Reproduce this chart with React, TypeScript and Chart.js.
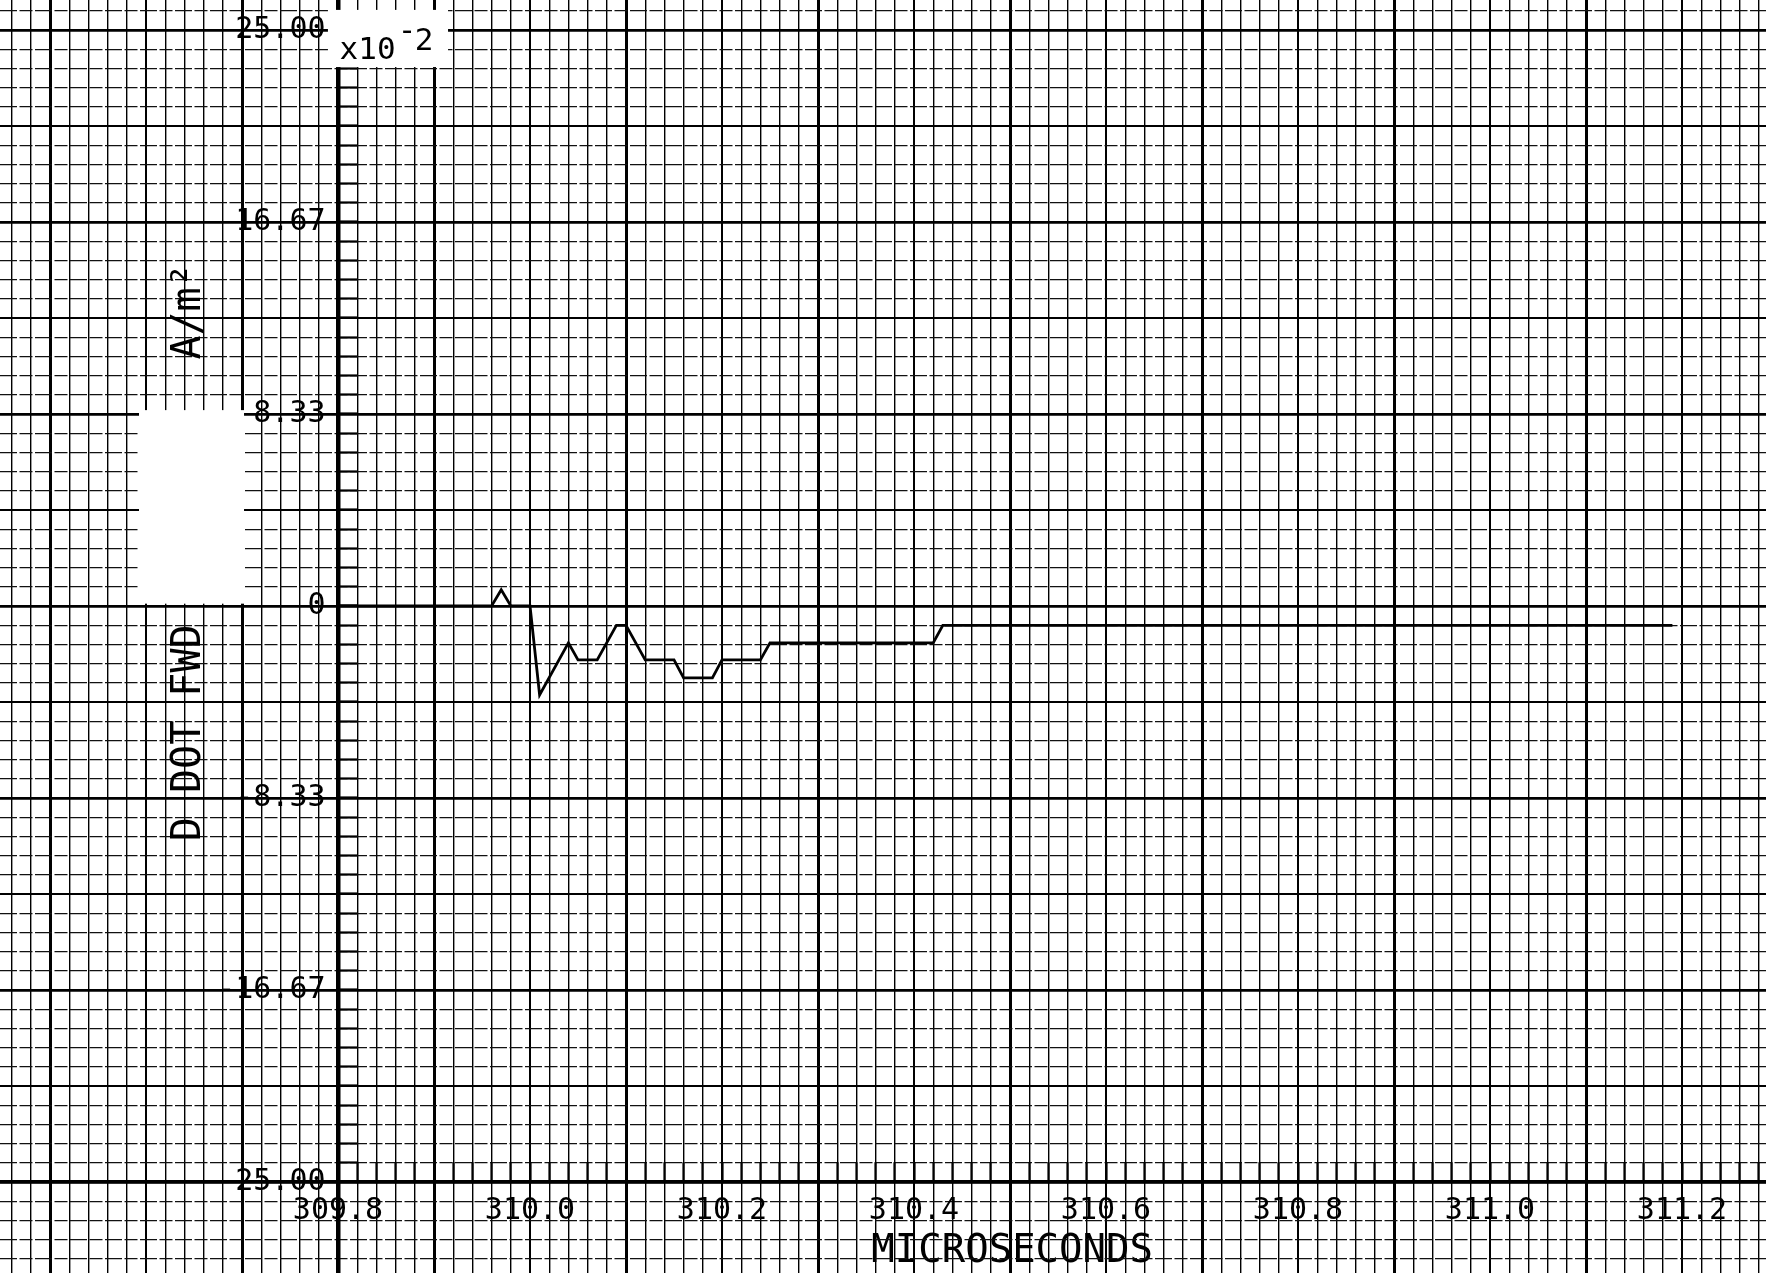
import React, { useEffect, useRef } from 'react';
import { Chart, registerables } from 'chart.js';

Chart.register(...registerables);

// ---------------- data ----------------
const TIME_US = [
  309.8, 309.96, 309.97, 309.98, 310.0, 310.01, 310.04, 310.05, 310.07, 310.09, 310.1,
  310.12, 310.15, 310.16, 310.19, 310.2, 310.24, 310.25, 310.42, 310.43, 311.19,
];
const D_DOT_FWD = [
  0, 0, 0.7, 0, 0, -3.86, -1.6, -2.34, -2.34, -0.84, -0.84,
  -2.34, -2.34, -3.12, -3.12, -2.34, -2.34, -1.6, -1.6, -0.84, -0.84,
];

// ---------------- ticks, labels, titles ----------------
const X_TICK_VALUES = [309.8, 310.0, 310.2, 310.4, 310.6, 310.8, 311.0, 311.2];
const X_TICK_LABELS = ['309.8', '310.0', '310.2', '310.4', '310.6', '310.8', '311.0', '311.2'];
const Y_TICK_VALUES = [25, 16.67, 8.33, 0, -8.33, -16.67, -25];
const Y_TICK_LABELS = ['25.00', '16.67', '8.33', '0', '-8.33', '-16.67', '-25.00'];
const X_TITLE = 'MICROSECONDS';
const Y_TITLE_LOWER = 'D DOT FWD';
const Y_TITLE_UPPER = 'A/m²';
const Y_MULTIPLIER = 'x10';
const Y_MULTIPLIER_SIGN = '-';
const Y_MULTIPLIER_EXP = '2';

// ---------------- frame (scale ranges) ----------------
const X_AXIS_START = 309.8;
const X_MINOR = 0.02;
const Y_AXIS_MIN = -25;
const Y_AXIS_MAX = 25;
const Y_MINOR = 25 / 30;
const VIEW_X_MIN = 309.4479;
const VIEW_X_MAX = 311.2875;
const VIEW_Y_MIN = -28.95;
const VIEW_Y_MAX = 26.3;
const Y_LABEL_ANCHOR = 309.787;

// blanked patches of the scan and the multiplier note (in data units)
const BLANK_PATCHES = [
  { x0: 309.7895, x1: 309.9146, y0: 23.39, y1: 25.87 },
  { x0: 309.5927, x1: 309.7021, y0: 0.1, y1: 8.5 },
];
const MULT_POS = { x: 309.8016, y: 23.75 };
const MULT_SIGN_POS = { x: 309.8621, y: 24.55 };
const MULT_EXP_POS = { x: 309.8799, y: 24.15 };

const MONO = "'DejaVu Sans Mono', 'Liberation Mono', monospace";

function gridValues(origin: number, step: number, lo: number, hi: number): number[] {
  const out: number[] = [];
  const k0 = Math.ceil((lo - origin) / step - 1e-9);
  const k1 = Math.floor((hi - origin) / step + 1e-9);
  for (let k = k0; k <= k1; k++) out.push(+(origin + k * step).toFixed(6));
  return out;
}

const PAPER_X = gridValues(X_AXIS_START, X_MINOR, VIEW_X_MIN, VIEW_X_MAX);
const PAPER_Y = gridValues(0, Y_MINOR, VIEW_Y_MIN, VIEW_Y_MAX);
const PAPER_Y_MAJOR = gridValues(0, Y_MINOR * 5, VIEW_Y_MIN, VIEW_Y_MAX);
const AXIS_X_TICKS = gridValues(X_AXIS_START, X_MINOR, X_AXIS_START, VIEW_X_MAX);
const AXIS_Y_TICKS = gridValues(0, Y_MINOR, Y_AXIS_MIN, Y_AXIS_MAX);

const mod = (k: number, n: number) => ((k % n) + n) % n;

const zeroPad = (s: any) => {
  s.paddingLeft = 0;
  s.paddingRight = 0;
  s.paddingTop = 0;
  s.paddingBottom = 0;
};

const setTicks = (values: number[]) => (s: any) => {
  s.ticks = values.map((value) => ({ value }));
};

const decorPlugin = {
  id: 'scanDecor',
  afterDraw(chart: any) {
    const { ctx } = chart;
    const xs = chart.scales.x;
    const ys = chart.scales.y;
    const px = (v: number) => xs.getPixelForValue(v);
    const py = (v: number) => ys.getPixelForValue(v);
    ctx.save();
    ctx.fillStyle = '#ffffff';
    for (const b of BLANK_PATCHES) {
      const x1 = px(b.x0);
      const x2 = px(b.x1);
      const y1 = py(b.y1);
      const y2 = py(b.y0);
      ctx.fillRect(x1, y1, x2 - x1, y2 - y1);
    }
    ctx.fillStyle = '#000000';
    ctx.font = `31px ${MONO}`;
    ctx.textAlign = 'left';
    ctx.textBaseline = 'alphabetic';
    ctx.fillText(Y_MULTIPLIER, px(MULT_POS.x), py(MULT_POS.y));
    ctx.fillText(Y_MULTIPLIER_SIGN, px(MULT_SIGN_POS.x), py(MULT_SIGN_POS.y));
    ctx.fillText(Y_MULTIPLIER_EXP, px(MULT_EXP_POS.x), py(MULT_EXP_POS.y));
    ctx.restore();
  },
};

export default function App() {
  const ref = useRef<HTMLCanvasElement>(null);

  useEffect(() => {
    document.body.style.margin = '0';
    const canvas = ref.current;
    if (!canvas) return;

    const tickFont = { family: MONO, size: 30 };

    const chart = new Chart(canvas, {
      type: 'line',
      data: {
        datasets: [
          {
            label: 'D DOT FWD',
            data: TIME_US.map((t, i) => ({ x: t, y: D_DOT_FWD[i] })),
            borderColor: '#000000',
            borderWidth: 2.8,
            pointRadius: 0,
            tension: 0,
            fill: false,
            xAxisID: 'x',
            yAxisID: 'y',
          },
        ],
      },
      options: {
        responsive: false,
        maintainAspectRatio: false,
        animation: false,
        events: [],
        layout: { padding: 0, autoPadding: false },
        plugins: {
          legend: { display: false },
          title: { display: false },
          tooltip: { enabled: false },
        },
        scales: {
          // graph paper: vertical lines + x title
          x: {
            type: 'linear',
            position: 'bottom',
            min: VIEW_X_MIN,
            max: VIEW_X_MAX,
            bounds: 'data',
            afterBuildTicks: setTicks(PAPER_X),
            afterFit: (s: any) => {
              s.height = 0;
            },
            grid: {
              drawTicks: false,
              color: '#000000',
              lineWidth: (ctx: any) => {
                if (!ctx.tick) return 0;
                const m = mod(Math.round((ctx.tick.value - X_AXIS_START) / X_MINOR), 10);
                return m === 5 ? 3.0 : m === 0 ? 2.0 : 1.4;
              },
            },
            border: { display: false },
            ticks: { display: false },
            title: {
              display: true,
              text: ' '.repeat(11) + X_TITLE,
              color: '#000000',
              font: { family: MONO, size: 39 },
              padding: { top: 0, bottom: -2 },
            },
          },
          // graph paper: minor horizontal (dashed) lines + y title
          y: {
            type: 'linear',
            position: 'left',
            min: VIEW_Y_MIN,
            max: VIEW_Y_MAX,
            bounds: 'data',
            afterBuildTicks: setTicks(PAPER_Y),
            afterFit: (s: any) => {
              s.width = 0;
            },
            grid: {
              drawTicks: false,
              color: '#111111',
              lineWidth: (ctx: any) => {
                if (!ctx.tick) return 0;
                return mod(Math.round(ctx.tick.value / Y_MINOR), 5) === 0 ? 0 : 1.3;
              },
            },
            border: { display: false, dash: [17, 2.5, 13, 2.5] },
            ticks: { display: false },
            title: {
              display: true,
              text: ' '.repeat(7) + Y_TITLE_LOWER + ' '.repeat(11) + Y_TITLE_UPPER,
              color: '#000000',
              font: { family: MONO, size: 40 },
              padding: { top: 166, bottom: 0 },
            },
          },
          // graph paper: major horizontal lines
          y2: {
            type: 'linear',
            axis: 'y',
            position: 'left',
            min: VIEW_Y_MIN,
            max: VIEW_Y_MAX,
            bounds: 'data',
            afterBuildTicks: setTicks(PAPER_Y_MAJOR),
            afterFit: (s: any) => {
              s.width = 0;
            },
            grid: {
              drawTicks: false,
              color: '#000000',
              lineWidth: (ctx: any) => {
                if (!ctx.tick) return 0;
                return mod(Math.round(ctx.tick.value / (Y_MINOR * 5)), 2) === 0 ? 2.8 : 2.0;
              },
            },
            border: { display: false },
            ticks: { display: false },
          },
          // plot x axis (at y = -25) with inward ticks and labels
          xAxis: {
            type: 'linear',
            axis: 'x',
            position: { y: Y_AXIS_MIN },
            min: VIEW_X_MIN,
            max: VIEW_X_MAX,
            bounds: 'data',
            afterBuildTicks: setTicks(AXIS_X_TICKS),
            afterFit: zeroPad,
            grid: {
              display: true,
              drawOnChartArea: false,
              drawTicks: true,
              tickLength: -21,
              tickWidth: 2.2,
              tickColor: '#000000',
            },
            border: { display: true, color: '#000000', width: 3.2 },
            ticks: {
              autoSkip: false,
              minRotation: 0,
              maxRotation: 0,
              padding: 32,
              color: '#000000',
              font: tickFont,
              callback: (v: any) => {
                const i = X_TICK_VALUES.findIndex((t) => Math.abs(t - Number(v)) < 1e-6);
                return i >= 0 ? X_TICK_LABELS[i] : '';
              },
            },
          },
          // plot y axis (at x = 309.8) with inward ticks
          yAxis: {
            type: 'linear',
            axis: 'y',
            position: { x: X_AXIS_START },
            min: VIEW_Y_MIN,
            max: VIEW_Y_MAX,
            bounds: 'data',
            afterBuildTicks: setTicks(AXIS_Y_TICKS),
            afterFit: zeroPad,
            grid: {
              display: true,
              drawOnChartArea: false,
              drawTicks: true,
              tickLength: -21,
              tickWidth: 2.2,
              tickColor: '#000000',
            },
            border: { display: true, color: '#000000', width: 4.5 },
            ticks: { display: false },
          },
          // y tick labels, just left of the y axis
          yLabels: {
            type: 'linear',
            axis: 'y',
            position: { x: Y_LABEL_ANCHOR },
            min: VIEW_Y_MIN,
            max: VIEW_Y_MAX,
            bounds: 'data',
            afterBuildTicks: setTicks(Y_TICK_VALUES),
            afterFit: zeroPad,
            grid: { display: false, drawTicks: false, drawOnChartArea: false },
            border: { display: false },
            ticks: {
              autoSkip: false,
              padding: 0,
              color: '#000000',
              font: tickFont,
              callback: (v: any) => {
                const i = Y_TICK_VALUES.findIndex((t) => Math.abs(t - Number(v)) < 1e-6);
                return i >= 0 ? Y_TICK_LABELS[i] : '';
              },
            },
          },
        },
      } as any,
      plugins: [decorPlugin],
    });

    return () => chart.destroy();
  }, []);

  return (
    <div
      style={{
        position: 'fixed',
        left: 0,
        top: 0,
        width: 1766,
        height: 1273,
        background: '#ffffff',
        overflow: 'hidden',
      }}
    >
      <canvas
        ref={ref}
        width={1766}
        height={1273}
        style={{ display: 'block', width: 1766, height: 1273 }}
      />
    </div>
  );
}
